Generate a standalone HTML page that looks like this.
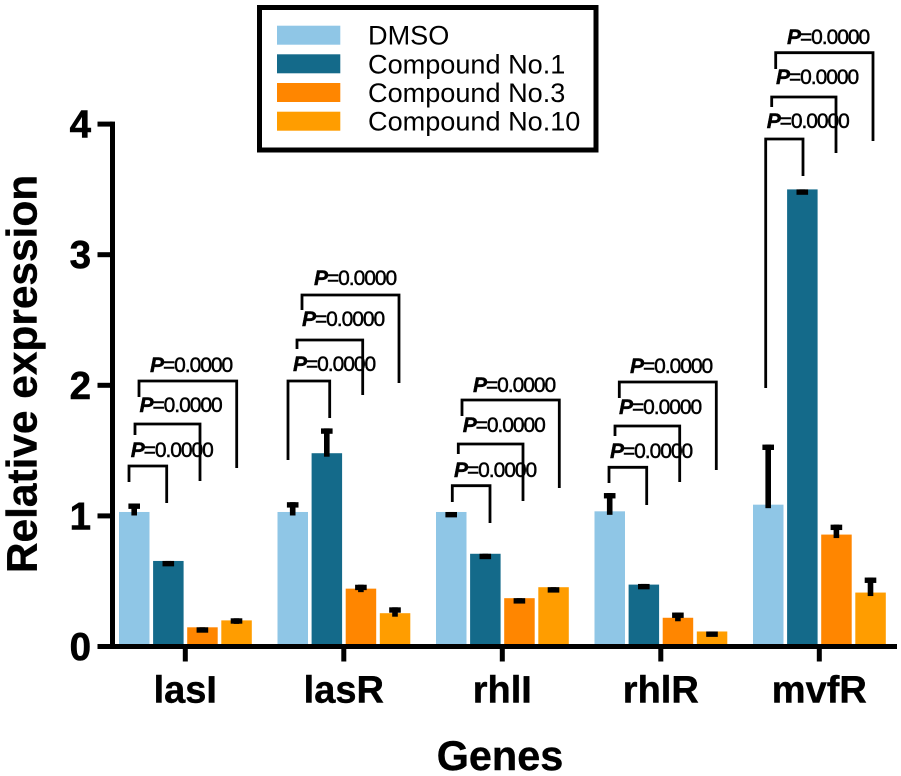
<!DOCTYPE html>
<html>
<head>
<meta charset="utf-8">
<title>Relative expression of genes</title>
<style>
html,body{margin:0;padding:0;background:#fff;width:901px;height:776px;overflow:hidden}
svg{display:block;font-family:"Liberation Sans",sans-serif}
.pv{font-size:21px;letter-spacing:-1.05px;fill:#000;stroke:#000;stroke-width:.45px}
.pv tspan{font-style:italic;font-weight:bold}
.br{fill:none;stroke:#000;stroke-width:2.8}
.lg{font-size:27.1px;fill:#000}
</style>
</head>
<body>
<svg id="chart" width="901" height="776" viewBox="0 0 901 776" xmlns="http://www.w3.org/2000/svg">
  <rect x="0" y="0" width="901" height="776" fill="#fff"/>
  <g id="marks"></g>
  <g id="axes"></g>

  <g>
    <path class="br" d="M129 482V466H166.7V503"/>
    <path class="br" d="M135 435V424H200V481"/>
    <path class="br" d="M139 397V381H236.7V468"/>
    <path class="br" d="M288 460V381H329.7V418"/>
    <path class="br" d="M297 349V340H362.7V395"/>
    <path class="br" d="M302 310V295H399V383"/>
    <path class="br" d="M452.3 502V485.7H490V523"/>
    <path class="br" d="M458.3 454V444H523V501"/>
    <path class="br" d="M462 416V400H559.3V488"/>
    <path class="br" d="M609 483V467.3H646.7V505"/>
    <path class="br" d="M615 436V426H679.7V482"/>
    <path class="br" d="M619.3 398V382H716.3V470"/>
    <path class="br" d="M765.7 388V139H803V176"/>
    <path class="br" d="M771.7 107V97H836V153"/>
    <path class="br" d="M775.7 69V52.7H873V141"/>
  </g>

  <g>
    <text class="pv" x="130.7" y="457"><tspan>P</tspan>=0.0000</text>
    <text class="pv" x="139.5" y="412"><tspan>P</tspan>=0.0000</text>
    <text class="pv" x="150" y="372"><tspan>P</tspan>=0.0000</text>
    <text class="pv" x="293" y="371"><tspan>P</tspan>=0.0000</text>
    <text class="pv" x="302" y="326"><tspan>P</tspan>=0.0000</text>
    <text class="pv" x="314" y="285"><tspan>P</tspan>=0.0000</text>
    <text class="pv" x="454" y="477"><tspan>P</tspan>=0.0000</text>
    <text class="pv" x="462.7" y="432"><tspan>P</tspan>=0.0000</text>
    <text class="pv" x="473" y="392"><tspan>P</tspan>=0.0000</text>
    <text class="pv" x="610" y="458"><tspan>P</tspan>=0.0000</text>
    <text class="pv" x="619" y="414"><tspan>P</tspan>=0.0000</text>
    <text class="pv" x="630" y="373"><tspan>P</tspan>=0.0000</text>
    <text class="pv" x="766.7" y="128"><tspan>P</tspan>=0.0000</text>
    <text class="pv" x="776" y="84"><tspan>P</tspan>=0.0000</text>
    <text class="pv" x="787" y="44"><tspan>P</tspan>=0.0000</text>
  </g>

  <text transform="translate(36.5 374) rotate(-90)" text-anchor="middle" font-size="42.4" font-weight="bold" fill="#000" stroke="#000" stroke-width=".4">Relative expression</text>
  <text x="500" y="770" text-anchor="middle" font-size="41.4" font-weight="bold" fill="#000" stroke="#000" stroke-width=".4">Genes</text>

  <g>
    <rect x="259.5" y="7.5" width="336.5" height="142.5" fill="#fff" stroke="#000" stroke-width="5"/>
    <rect x="277" y="25.7" width="63.3" height="19" fill="#8FC6E6"/>
    <rect x="277" y="54.3" width="63.3" height="19" fill="#146A8A"/>
    <rect x="277" y="83" width="63.3" height="19" fill="#FF8600"/>
    <rect x="277" y="111.7" width="63.3" height="19" fill="#FF9D00"/>
    <text class="lg" x="368" y="44.7">DMSO</text>
    <text class="lg" x="368" y="73.5">Compound No.1</text>
    <text class="lg" x="368" y="102">Compound No.3</text>
    <text class="lg" x="368" y="130.7">Compound No.10</text>
  </g>
</svg>
<script>
var genes = ['lasI', 'lasR', 'rhlI', 'rhlR', 'mvfR'];
var seriesNames = ['DMSO', 'Compound No.1', 'Compound No.3', 'Compound No.10'];
var dmso = [1.03, 1.03, 1.03, 1.035, 1.086];
var compound1 = [0.655, 1.48, 0.71, 0.474, 3.5];
var compound3 = [0.147, 0.443, 0.37, 0.22, 0.857];
var compound10 = [0.2, 0.255, 0.454, 0.115, 0.413];
var dmsoErr = [0.065, 0.075, 0, 0.14, 0.46];
var compound1Err = [0, 0.19, 0, 0.005, 0];
var compound3Err = [0, 0.03, 0, 0.04, 0.076];
var compound10Err = [0.016, 0.045, 0, 0, 0.115];
var yTicks = [0, 1, 2, 3, 4];

var NS = 'http://www.w3.org/2000/svg';
var values = [dmso, compound1, compound3, compound10];
var errors = [dmsoErr, compound1Err, compound3Err, compound10Err];
var colors = ['#8FC6E6', '#146A8A', '#FF8600', '#FF9D00'];

function yScale(v) { return 646.5 - v * 130.6; }
function groupX(g) { return 119 + g * 158.5; }
function barX(g, s) { return groupX(g) + s * 34.1; }
function tickX(g) { return 185.3 + g * 158.5; }

function make(tag, attrs, parent) {
  var el = document.createElementNS(NS, tag);
  for (var k in attrs) { el.setAttribute(k, attrs[k]); }
  parent.appendChild(el);
  return el;
}

var marks = document.getElementById('marks');
var axes = document.getElementById('axes');

genes.forEach(function (gene, g) {
  seriesNames.forEach(function (name, s) {
    var key = gene.toLowerCase() + '-' + name.toLowerCase().replace(/[^a-z0-9]+/g, '-');
    var v = values[s][g];
    var e = errors[s][g];
    var x = barX(g, s);
    var top = yScale(v);
    var capTop = yScale(v + e);
    var bar = make('rect', { x: x, y: top, width: 30.5, height: yScale(0) - top, fill: colors[s] }, marks);
    
    
    var cx = x + 15.2;
    var stem = make('rect', { x: cx - 2.8, y: capTop, width: 5.6, height: top + 3.5 - capTop, fill: '#000' }, marks);
    
    
    var cap = make('rect', { x: cx - 5.8, y: capTop, width: 11.6, height: 5.4, fill: '#000' }, marks);
    
    
  });
  var tick = make('rect', { x: tickX(g) - 2.5, y: yScale(0), width: 5, height: 15, fill: '#000' }, axes);
  
  
  var label = make('text', { x: tickX(g), y: 702.7, 'text-anchor': 'middle', 'font-size': 38, 'font-weight': 'bold', fill: '#000', stroke: '#000', 'stroke-width': 0.4 }, axes);
  
  
  label.textContent = gene;
});

var yLine = make('rect', { x: 110, y: yScale(4) - 2.5, width: 5, height: yScale(0) - yScale(4) + 5, fill: '#000' }, axes);


var xLine = make('rect', { x: 110, y: yScale(0) - 2.5, width: 787, height: 5, fill: '#000' }, axes);



yTicks.forEach(function (t) {
  var tick = make('rect', { x: 97.5, y: yScale(t) - 2.5, width: 15, height: 5, fill: '#000' }, axes);
  
  
  var label = make('text', { x: 91, y: yScale(t) + 13.5, 'text-anchor': 'end', 'font-size': 38.5, 'font-weight': 'bold', fill: '#000', stroke: '#000', 'stroke-width': 0.6 }, axes);
  
  
  label.textContent = String(t);
});
</script>
</body>
</html>
